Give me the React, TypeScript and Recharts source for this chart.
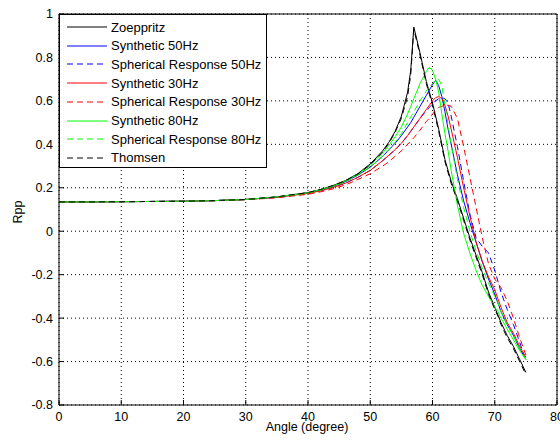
import React from 'react';
import { LineChart, Line, XAxis, YAxis, CartesianGrid } from 'recharts';

const angles = [0, 5, 10, 15, 20, 25, 30, 35, 40, 42, 44, 46, 48, 50, 52, 53, 54, 55, 56, 56.5, 57, 58, 59, 59.5, 60, 60.5, 61, 61.5, 62, 62.5, 63, 64, 65, 66, 67, 68, 69, 70, 70.5, 71, 72, 73, 74, 75];

const zoeppritz = [0.135, 0.135, 0.136, 0.137, 0.138, 0.141, 0.146, 0.158, 0.178, 0.192, 0.21, 0.233, 0.265,
  0.31, 0.37, 0.41, 0.46, 0.53, 0.64, 0.74, 0.94, 0.82, 0.69, 0.64, 0.59, 0.53, 0.47, 0.40, 0.33, 0.28, 0.23, 0.15, 0.06, -0.03, -0.11, -0.19, -0.28, -0.35, -0.385, -0.42, -0.48, -0.53, -0.59, -0.65];

const synthetic50 = [0.135, 0.135, 0.136, 0.137, 0.138, 0.141, 0.146, 0.157, 0.176, 0.189, 0.206, 0.228, 0.258,
  0.295, 0.345, 0.375, 0.405, 0.44, 0.48, 0.50, 0.525, 0.575, 0.625, 0.65, 0.675, 0.695, 0.67, 0.62, 0.55, 0.47, 0.40, 0.26, 0.14, 0.04, -0.05, -0.14, -0.22, -0.29, -0.33, -0.37, -0.43, -0.48, -0.54, -0.59];

const spherical50 = [0.135, 0.135, 0.136, 0.137, 0.138, 0.141, 0.146, 0.156, 0.174, 0.186, 0.201, 0.221, 0.248,
  0.28, 0.325, 0.35, 0.375, 0.405, 0.44, 0.46, 0.48, 0.52, 0.555, 0.57, 0.585, 0.60, 0.61, 0.615, 0.61, 0.59, 0.53, 0.39, 0.23, 0.08, -0.03, -0.07, -0.10, -0.18, -0.23, -0.28, -0.36, -0.43, -0.51, -0.60];

const synthetic30 = [0.135, 0.135, 0.136, 0.137, 0.138, 0.141, 0.146, 0.156, 0.174, 0.186, 0.201, 0.221, 0.248,
  0.28, 0.325, 0.35, 0.375, 0.405, 0.44, 0.46, 0.48, 0.52, 0.56, 0.58, 0.60, 0.615, 0.62, 0.61, 0.58, 0.53, 0.47, 0.34, 0.20, 0.07, -0.05, -0.14, -0.21, -0.27, -0.31, -0.35, -0.42, -0.47, -0.53, -0.58];

const spherical30 = [0.135, 0.135, 0.136, 0.137, 0.138, 0.14, 0.145, 0.154, 0.17, 0.181, 0.195, 0.213, 0.238,
  0.265, 0.30, 0.32, 0.345, 0.37, 0.40, 0.415, 0.43, 0.465, 0.505, 0.52, 0.54, 0.555, 0.57, 0.575, 0.58, 0.58, 0.575, 0.52, 0.39, 0.25, 0.11, -0.03, -0.15, -0.22, -0.24, -0.26, -0.32, -0.40, -0.49, -0.57];

const synthetic80 = [0.135, 0.135, 0.136, 0.137, 0.138, 0.141, 0.146, 0.158, 0.177, 0.191, 0.208, 0.231, 0.262,
  0.305, 0.36, 0.395, 0.435, 0.48, 0.54, 0.575, 0.61, 0.68, 0.735, 0.755, 0.74, 0.70, 0.64, 0.54, 0.45, 0.37, 0.28, 0.12, -0.01, -0.10, -0.18, -0.25, -0.30, -0.35, -0.37, -0.40, -0.45, -0.50, -0.55, -0.59];

const spherical80 = [0.135, 0.135, 0.136, 0.137, 0.138, 0.141, 0.146, 0.157, 0.176, 0.189, 0.206, 0.228, 0.258,
  0.295, 0.345, 0.375, 0.41, 0.45, 0.50, 0.525, 0.55, 0.60, 0.645, 0.665, 0.68, 0.695, 0.70, 0.67, 0.58, 0.49, 0.40, 0.24, 0.11, 0.0, -0.09, -0.17, -0.24, -0.30, -0.33, -0.37, -0.43, -0.48, -0.54, -0.59];

const thomsen = [0.135, 0.135, 0.136, 0.137, 0.138, 0.141, 0.146, 0.158, 0.178, 0.192, 0.21, 0.232, 0.263,
  0.305, 0.365, 0.405, 0.455, 0.52, 0.62, 0.72, 0.93, 0.81, 0.68, 0.63, 0.58, 0.52, 0.46, 0.39, 0.32, 0.27, 0.22, 0.14, 0.05, -0.04, -0.12, -0.20, -0.29, -0.36, -0.39, -0.43, -0.49, -0.54, -0.60, -0.66];

const xTicks = [0, 10, 20, 30, 40, 50, 60, 70, 80];
const yTicks = [-0.8, -0.6, -0.4, -0.2, 0, 0.2, 0.4, 0.6, 0.8, 1];

const seriesNames = [
  'Zoeppritz',
  'Synthetic 50Hz',
  'Spherical Response 50Hz',
  'Synthetic 30Hz',
  'Spherical Response 30Hz',
  'Synthetic 80Hz',
  'Spherical Response 80Hz',
  'Thomsen',
];
const seriesValues = [zoeppritz, synthetic50, spherical50, synthetic30, spherical30, synthetic80, spherical80, thomsen];

const seriesStyles = [
  { color: '#000000', dash: undefined as string | undefined },
  { color: '#0000ff', dash: undefined },
  { color: '#0000ff', dash: '6 4' },
  { color: '#ff0000', dash: undefined },
  { color: '#ff0000', dash: '6 4' },
  { color: '#00ff00', dash: undefined },
  { color: '#00ff00', dash: '6 4' },
  { color: '#000000', dash: '6 4' },
];

const data = angles.map((a, i) => {
  const row: Record<string, number> = { angle: a };
  seriesValues.forEach((vals, s) => {
    row['s' + s] = vals[i];
  });
  return row;
});

const FONT = '"Liberation Sans", Arial, Helvetica, sans-serif';

const fmt = (v: number) => String(Math.round(v * 10) / 10);

export default function App() {
  return (
    <div style={{ position: 'absolute', left: 0, top: 0, width: 560, height: 442, background: '#fff', fontFamily: FONT }}>
      <LineChart width={560} height={442} data={data} margin={{ top: 13, right: 2, bottom: 0, left: 0 }}>
        <CartesianGrid stroke="#000" strokeDasharray="1 3" />
        <XAxis
          dataKey="angle"
          type="number"
          domain={[0, 80]}
          ticks={xTicks}
          allowDataOverflow
          height={37}
          tickSize={-5}
          tickMargin={12}
          stroke="#000"
          tick={{ fill: '#000', fontSize: 12.5, fontFamily: FONT }}
          interval={0}
        />
        <XAxis
          xAxisId="top"
          orientation="top"
          type="number"
          domain={[0, 80]}
          ticks={xTicks}
          allowDataOverflow
          height={1}
          tickSize={-5}
          tick={false}
          stroke="#000"
        />
        <YAxis
          type="number"
          domain={[-0.8, 1]}
          ticks={yTicks}
          allowDataOverflow
          width={59}
          tickSize={-5}
          tickMargin={11}
          stroke="#000"
          tickFormatter={fmt}
          tick={{ fill: '#000', fontSize: 12.5, fontFamily: FONT }}
          interval={0}
        />
        <YAxis
          yAxisId="right"
          orientation="right"
          type="number"
          domain={[-0.8, 1]}
          ticks={yTicks}
          allowDataOverflow
          width={1}
          tickSize={-5}
          tick={false}
          stroke="#000"
        />
        {seriesNames.map((name, s) => (
          <Line
            key={name}
            dataKey={'s' + s}
            name={name}
            type="linear"
            stroke={seriesStyles[s].color}
            strokeDasharray={seriesStyles[s].dash}
            strokeWidth={1}
            dot={false}
            activeDot={false}
            isAnimationActive={false}
          />
        ))}
      </LineChart>

      <div style={{ position: 'absolute', left: 18, top: 212, transform: 'translate(-50%, -50%) rotate(-90deg)', fontSize: 12.5, color: '#000', whiteSpace: 'nowrap', lineHeight: '14px' }}>
        Rpp
      </div>
      <div style={{ position: 'absolute', left: 307, top: 427, transform: 'translate(-50%, -50%)', fontSize: 12.5, color: '#000', whiteSpace: 'nowrap', lineHeight: '12px' }}>
        Angle (degree)
      </div>

      <div style={{ position: 'absolute', left: 59, top: 14, width: 208, height: 154, background: '#fff', border: '1px solid #000', boxSizing: 'border-box' }}>
        {seriesNames.map((name, s) => (
          <div key={name} style={{ position: 'absolute', left: 0, top: 12 + s * 18.7 - 9, height: 18, display: 'flex', alignItems: 'center' }}>
            <svg width={50} height={18} style={{ display: 'block' }}>
              <line x1={7} x2={47} y1={9} y2={9} stroke={seriesStyles[s].color} strokeWidth={1} strokeDasharray={seriesStyles[s].dash} />
            </svg>
            <span style={{ fontSize: 13, color: '#000', whiteSpace: 'nowrap', marginLeft: 1 }}>{name}</span>
          </div>
        ))}
      </div>
    </div>
  );
}
